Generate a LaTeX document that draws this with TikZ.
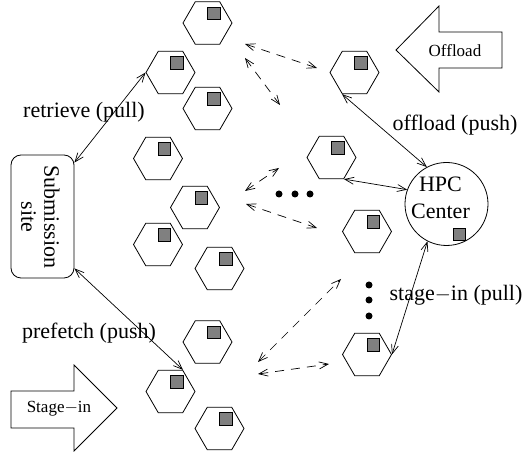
\documentclass[tikz,border=0pt]{standalone}
\usepackage{fontspec}
\setmainfont{Liberation Serif}
\usetikzlibrary{arrows.meta,shapes.geometric,calc}
\newcommand\hexat[3]{%
  \node[hexnode] (#1) at (#2,#3) {};
  \node[sqnode] (#1sq) at ($(#1)+(6.5,-9.5)$) {};}
\begin{document}
\begin{tikzpicture}[x=1pt,y=-1pt,
  hexnode/.style={regular polygon, regular polygon sides=6, minimum size=49pt, inner sep=0pt, draw, line width=0.8pt},
  sqnode/.style={draw, fill=gray, minimum size=12.5pt, inner sep=0pt, line width=0.8pt},
  tip/.tip={Straight Barb[length=9pt,width=7pt]},
  conn/.style={line width=0.7pt, tip-tip},
  dconn/.style={conn, dash pattern=on 9pt off 7pt},
  lbl/.style={font=\fontsize{22}{26}\selectfont, inner sep=0pt},
  slbl/.style={font=\fontsize{17}{20}\selectfont, inner sep=0pt},
  dotnode/.style={circle, fill=black, minimum size=7pt, inner sep=0pt},
  bigarrow/.style={draw, line width=0.8pt, line join=miter}
]
\useasboundingbox (0,0) rectangle (523,454);

% hexagons
\hexat{h1}{207.5}{23}
\hexat{h2}{170.5}{72.5}
\hexat{h3}{207.5}{108.5}
\hexat{h4}{158}{158.5}
\hexat{h5}{195}{207.5}
\hexat{h6}{158}{244.5}
\hexat{h7}{219.5}{268.5}
\hexat{h8}{207.5}{342}
\hexat{h9}{170.5}{391.5}
\hexat{h10}{219.5}{428.5}
\hexat{r1}{354.5}{72.5}
\hexat{r2}{331.5}{157.5}
\hexat{r3}{367}{231.5}
\hexat{r4}{367}{354.5}

% submission site
\node[draw, line width=0.8pt, rounded corners=10pt, minimum width=63pt, minimum height=123pt, inner sep=0pt] (sub) at (42.5,216.5) {};
\node[lbl, rotate=-90, align=center, font=\fontsize{22}{23}\selectfont] (subtxt) at (40.5,217) {Submission\\site};

% HPC center
\node[draw, circle, line width=0.8pt, minimum size=83pt, inner sep=0pt] (hpc) at (446.5,204) {};
\node[lbl, align=center, font=\fontsize{22}{27}\selectfont] (hpctxt) at (440.5,197.5) {HPC\\Center};
\node[sqnode] (hpcsq) at (459.5,234.5) {};

% big arrows
\draw[bigarrow] (396,50) -- (439,6) -- (439,32) -- (502,32) -- (502,68) -- (439,68) -- (439,92) -- cycle;
\node[slbl] (offl) at (455,51) {Offload};
\draw[bigarrow] (11,391) -- (74,391) -- (74,365) -- (117,408) -- (74,451) -- (74,428) -- (11,428) -- cycle;
\node[slbl] (stin) at (59,409) {Stage\(-\)in};

% solid connectors
\draw[conn] ($(sub.north east)+(0,8)$) -- (h2.180);
\draw[conn] ($(sub.south east)+(0,-10)$) -- (h9.corner 1);
\draw[conn] (r1.corner 4) -- (hpc.118);
\draw[conn] (r2.corner 5) -- (hpc.160);
\draw[conn] (hpc.243) -- (r4.corner 6);

% labels
\node[lbl] (lret) at (84,112) {retrieve (pull)};
\node[lbl] (lpre) at (89,333) {prefetch (push)};
\node[lbl] (loff) at (455,125) {offload (push)};
\node[lbl] (lsti) at (456,295) {stage\(-\)in (pull)};

% dashed connectors
\coordinate (d1a) at (245,44);  \coordinate (d1b) at (317,68);
\coordinate (d2a) at (245,58);  \coordinate (d2b) at (280,105);
\coordinate (d3a) at (245,191); \coordinate (d3b) at (279,168);
\coordinate (d4a) at (246,204); \coordinate (d4b) at (317,228);
\coordinate (d5a) at (258,362); \coordinate (d5b) at (341,279);
\coordinate (d6a) at (258,374); \coordinate (d6b) at (329,364);
\draw[dconn] (d1a) -- (d1b);
\draw[dconn] (d2a) -- (d2b);
\draw[dconn] (d3a) -- (d3b);
\draw[dconn] (d4a) -- (d4b);
\draw[dconn] (d5a) -- (d5b);
\draw[dconn] (d6a) -- (d6b);

% dots
\node[dotnode] (dh1) at (279,194) {};
\node[dotnode] (dh2) at (295,194) {};
\node[dotnode] (dh3) at (310,194) {};
\node[dotnode] (dv1) at (369,285) {};
\node[dotnode] (dv2) at (369,300) {};
\node[dotnode] (dv3) at (369,316) {};
\end{tikzpicture}
\end{document}
